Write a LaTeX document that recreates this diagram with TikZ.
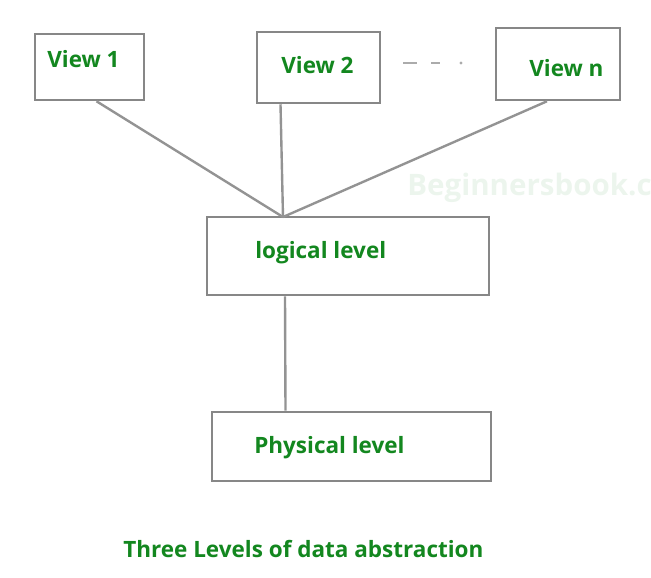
\documentclass[tikz,border=0pt]{standalone}
\usepackage{fontspec}
\setmainfont{Open Sans}
\usetikzlibrary{positioning,calc,fit}
\definecolor{cgreen}{HTML}{13871F}
\definecolor{cgray}{HTML}{878787}

\begin{document}
\begin{tikzpicture}[x=0.025cm,y=-0.025cm,
    box/.style={draw=cgray,line width=1.8pt,inner sep=0pt},
    lbl/.style={text=cgreen,font=\bfseries\fontsize{16}{18}\selectfont,inner sep=0pt,anchor=west},
    link/.style={draw=cgray!90,line width=1.7pt}]
        \useasboundingbox (0,0) rectangle (651,578);
        % boxes
        \node[box,fit={(35,34) (144,100)}] (v1) {};
        \node[box,fit={(257,32) (380,103)}] (v2) {};
        \node[box,fit={(496,28) (620,100)}] (vn) {};
        \node[box,fit={(207,217) (489,295)}] (logical) {};
        \node[box,fit={(212,412) (491,481)}] (physical) {};
        % texts
        \node[lbl] (t1) at (47,59) {View 1};
        \node[lbl] (t2) at (281,65) {View 2};
        \node[lbl] (tn) at (529,68) {View n};
        \node[lbl] (tl) at (255,253) {logical level};
        \node[lbl] (tp) at (254,448) {Physical level};
        \node[lbl] (cap) at (123,549) {Three Levels of data abstraction};
        \node[lbl,text=cgreen!8,font=\bfseries\fontsize{21}{23}\selectfont] (wm) at (407,188) {Beginnersbook.c};
        % dots between view 2 and view n
        \draw[cgray!70,line width=1.7pt,dash pattern=on 10pt off 10pt] (403,63) -- (440,63);
        \fill[cgray!70] (461,63) circle (1.6);
        % connectors
        \coordinate (hub) at (283,217);
        \draw[link] ($(v1.south)+(7,0)$) -- (hub);
        \draw[link] ($(v2.south)+(-38,0)$) -- (hub);
        \draw[link] ($(vn.south)+(-11,0)$) -- (hub);
        \draw[link] ($(logical.south)+(-63,0)$) -- ($(physical.north)+(-66,0)$);
      \end{tikzpicture}
\end{document}
